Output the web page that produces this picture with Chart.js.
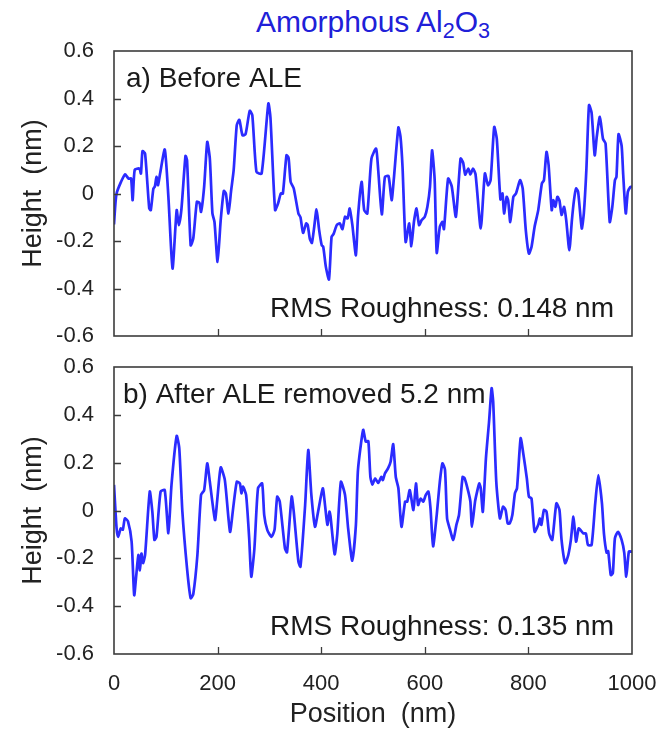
<!DOCTYPE html>
<html>
<head>
<meta charset="utf-8">
<script src="https://cdn.jsdelivr.net/npm/chart.js@4.4.0/dist/chart.umd.min.js"></script>
<style>
  html, body { margin: 0; padding: 0; background: #fff; }
  #wrap { position: relative; width: 671px; height: 732px; overflow: hidden; }
  #wrap canvas { position: absolute; left: 0; top: 0; }
  #title {
    position: absolute; left: 114px; width: 518px; top: 5px; text-align: center;
    font-family: "Liberation Sans", Arial, sans-serif; font-size: 30px; color: #2020d8;
  }
  #title sub { font-size: 0.72em; vertical-align: -0.3em; line-height: 0; }
</style>
</head>
<body>
<div id="wrap">
  <div id="title">Amorphous Al<sub>2</sub>O<sub>3</sub></div>
  <canvas id="chartA" width="671" height="732"></canvas>
  <canvas id="chartB" width="671" height="732"></canvas>
</div>
<script>
// panel a) before ALE
const posA = [0, 5, 21, 28, 33, 36, 40, 49, 52, 55, 60, 68, 71, 76, 79, 82, 85, 89, 98, 105,
  113, 121, 125, 130, 138, 141, 148, 153, 160, 165, 168, 174, 180, 185, 190, 194, 200, 206, 212, 216,
  221, 226, 231, 237, 242, 248, 254, 262, 267, 275, 285, 298, 302, 311, 317, 322, 326, 333, 337, 341,
  347, 356, 360, 365, 371, 374, 378, 382, 386, 391, 396, 401, 404, 409, 415, 420, 424, 430, 436, 441,
  446, 451, 455, 460, 467, 471, 478, 483, 489, 497, 506, 510, 517, 523, 530, 536, 540, 549, 553, 557,
  563, 570, 574, 579, 584, 589, 594, 600, 605, 610, 614, 619, 623, 629, 634, 637, 645, 652, 660, 669,
  674, 678, 684, 688, 693, 698, 708, 716, 722, 727, 734, 739, 746, 750, 753, 758, 761, 765, 771, 776,
  784, 789, 795, 801, 806, 812, 819, 826, 830, 835, 839, 845, 848, 852, 856, 860, 864, 869, 873, 879,
  884, 888, 892, 896, 903, 907, 912, 917, 922, 928, 932, 938, 944, 949, 957, 962, 967, 970, 974, 980,
  983, 988, 992, 997, 1000];
const heightA = [-0.13, 0.0, 0.08, 0.063, 0.063, -0.028, 0.10, 0.105, 0.084, 0.178, 0.168, -0.063, -0.07, 0.02, 0.03, 0.07, 0.035, 0.084, 0.185, -0.014,
  -0.316, -0.07, -0.133, -0.07, 0.158, 0.14, -0.218, -0.19, -0.035, -0.04, -0.077, 0.028, 0.217, 0.147, -0.084, -0.12, -0.288, -0.112, 0.011, 0.0,
  -0.084, 0.01, 0.098, 0.288, 0.31, 0.245, 0.25, 0.348, 0.33, 0.091, 0.084, 0.379, 0.32, -0.07, -0.04, 0.0, 0.0, 0.161, 0.15, 0.049,
  0.021, -0.084, -0.1, -0.166, -0.126, -0.133, -0.19, -0.208, -0.15, -0.067, -0.153, -0.218, -0.225, -0.309, -0.362, -0.183, -0.17, -0.133, -0.126, -0.15,
  -0.098, -0.105, -0.063, -0.13, -0.26, -0.098, 0.049, -0.07, -0.084, 0.147, 0.189, 0.10, -0.088, 0.07, 0.073, -0.028, 0.056, 0.278, 0.24, 0.112,
  -0.204, -0.126, -0.222, -0.12, -0.063, -0.133, -0.112, -0.098, -0.056, 0.028, 0.182, 0.06, -0.25, -0.14, -0.12, -0.15, 0.063, 0.03, -0.098, 0.147,
  0.13, 0.08, 0.105, 0.08, 0.105, 0.08, -0.147, 0.084, 0.035, 0.056, 0.28, 0.23, -0.025, 0.0, -0.084, -0.014, -0.03, -0.12, -0.014, 0.0,
  0.056, 0.021, -0.155, -0.253, -0.225, -0.14, -0.07, 0.042, 0.056, 0.175, 0.12, -0.07, -0.028, -0.056, -0.014, -0.03, -0.09, -0.056, -0.112, -0.239,
  -0.112, -0.028, 0.021, 0.007, -0.147, -0.084, 0.105, 0.372, 0.34, 0.161, 0.24, 0.323, 0.23, 0.21, -0.12, -0.056, 0.056, 0.07, 0.25, 0.2,
  0.08, -0.084, 0.007, 0.028, 0.03];

// panel b) after ALE removed 5.2 nm
const posB = [0, 5, 8, 13, 17, 21, 27, 34, 39, 43, 47, 50, 53, 56, 60, 69, 74, 78, 82, 90,
  98, 105, 111, 121, 126, 132, 141, 148, 153, 161, 168, 174, 180, 185, 195, 199, 206, 214, 224, 230,
  237, 243, 246, 249, 255, 261, 265, 271, 278, 286, 290, 296, 304, 310, 315, 320, 330, 334, 343, 347,
  356, 360, 369, 375, 381, 388, 394, 403, 407, 412, 416, 418, 426, 431, 438, 446, 452, 460, 467, 471,
  481, 486, 491, 495, 499, 504, 510, 516, 519, 523, 529, 534, 539, 544, 549, 555, 562, 566, 571, 578,
  583, 587, 592, 597, 602, 607, 611, 616, 623, 629, 634, 639, 643, 648, 655, 661, 666, 673, 677, 684,
  688, 691, 697, 701, 705, 708, 712, 718, 724, 729, 732, 738, 745, 751, 756, 760, 764, 769, 774, 778,
  785, 790, 797, 801, 806, 812, 819, 822, 825, 830, 835, 840, 846, 854, 860, 864, 871, 877, 882, 887,
  892, 897, 900, 906, 911, 915, 922, 929, 935, 942, 946, 951, 954, 959, 963, 967, 973, 980, 985, 989,
  994, 1000];
const heightB = [0.107, -0.075, -0.11, -0.075, -0.08, -0.033, -0.045, -0.13, -0.354, -0.27, -0.186, -0.25, -0.18, -0.22, -0.186, 0.079, -0.005, -0.123, -0.11, 0.079,
  0.085, -0.095, 0.107, 0.312, 0.26, -0.005, -0.242, -0.367, -0.35, -0.186, 0.065, 0.085, 0.197, 0.12, -0.04, 0.037, 0.18, 0.127, -0.089, 0.009,
  0.12, 0.113, 0.072, 0.1, 0.065, -0.117, -0.277, -0.16, 0.093, 0.113, -0.019, -0.082, -0.11, -0.08, 0.058, 0.037, -0.158, -0.175, 0.058, -0.005,
  -0.214, -0.235, 0.023, 0.253, 0.065, -0.068, -0.005, 0.093, 0.03, -0.06, -0.005, -0.025, -0.183, -0.1, 0.12, 0.065, -0.075, -0.21, -0.06, 0.17,
  0.337, 0.288, 0.29, 0.14, 0.108, 0.134, 0.115, 0.14, 0.127, 0.155, 0.176, 0.204, 0.277, 0.14, 0.093, -0.068, 0.037, 0.037, 0.085, 0.002,
  0.113, 0.023, 0.05, 0.037, 0.065, 0.079, 0.009, -0.15, -0.019, 0.12, 0.197, 0.17, -0.033, -0.075, -0.123, -0.06, -0.019, 0.14, 0.134, 0.079,
  0.037, -0.068, 0.037, 0.079, 0.113, 0.093, -0.005, 0.218, 0.37, 0.511, 0.455, 0.12, -0.033, 0.016, 0.002, -0.054, -0.054, -0.019, 0.072, 0.093,
  0.302, 0.24, 0.134, 0.058, 0.05, -0.089, -0.06, -0.033, -0.06, 0.002, -0.005, -0.096, -0.123, 0.03, 0.002, -0.123, -0.22, -0.186, -0.123, -0.026,
  -0.13, -0.075, -0.08, -0.096, -0.096, -0.144, -0.144, 0.03, 0.148, 0.03, -0.1, -0.176, -0.17, -0.27, -0.262, -0.116, -0.089, -0.123, -0.176, -0.277,
  -0.172, -0.172];

const xTicks = [0, 200, 400, 600, 800, 1000];
const yTicks = [-0.6, -0.4, -0.2, 0, 0.2, 0.4, 0.6];

const FONT = '"Liberation Sans", Arial, sans-serif';
const LINE_BLUE = '#2b2bff';
const FRAME = '#3c3c3c';

// frame, inward tick marks and in-panel labels
const panelDecor = {
  id: 'panelDecor',
  afterDraw(chart, args, opts) {
    const { ctx, chartArea: a, scales } = chart;
    ctx.save();
    ctx.strokeStyle = FRAME;
    ctx.lineWidth = 1.6;
    ctx.strokeRect(a.left, a.top, a.right - a.left, a.bottom - a.top);
    ctx.lineWidth = 1.3;
    ctx.beginPath();
    yTicks.slice(1, -1).forEach(v => {
      const y = Math.round(scales.y.getPixelForValue(v)) + 0.5;
      ctx.moveTo(a.left, y); ctx.lineTo(a.left + 7, y);
    });
    xTicks.slice(1, -1).forEach(v => {
      const x = Math.round(scales.x.getPixelForValue(v)) + 0.5;
      ctx.moveTo(x, a.bottom); ctx.lineTo(x, a.bottom - 7);
    });
    ctx.stroke();

    ctx.fillStyle = '#1a1a1a';
    ctx.font = '28px ' + FONT;
    ctx.textBaseline = 'alphabetic';
    ctx.textAlign = 'left';
    ctx.fillText(opts.label, a.left + opts.labelDx, a.top + 36);
    ctx.textAlign = 'right';
    ctx.fillText(opts.rms, a.right - 18, a.bottom - 19);
    ctx.restore();
  }
};

function makePanel(id, xs, ys, pad, showX, label, labelDx, rms) {
  return new Chart(document.getElementById(id), {
    type: 'line',
    data: {
      datasets: [{
        data: xs.map((x, i) => ({ x: x, y: ys[i] })),
        borderColor: LINE_BLUE,
        borderWidth: 2.7,
        pointRadius: 0,
        tension: 0.2,
        fill: false
      }]
    },
    options: {
      responsive: false,
      devicePixelRatio: 1,
      animation: false,
      layout: { padding: pad },
      plugins: {
        legend: { display: false },
        tooltip: { enabled: false },
        panelDecor: { label: label, labelDx: labelDx, rms: rms }
      },
      scales: {
        x: {
          type: 'linear',
          min: 0,
          max: 1000,
          display: showX,
          afterBuildTicks: axis => { axis.ticks = xTicks.map(v => ({ value: v })); },
          afterFit: axis => {
            if (showX) axis.height = 78;
            axis.paddingLeft = 0;
            axis.paddingRight = 0;
          },
          grid: { display: false, drawTicks: false },
          border: { display: false },
          ticks: {
            color: '#222',
            font: { family: FONT, size: 22 },
            padding: 17,
            maxRotation: 0,
            callback: v => String(v)
          },
          title: {
            display: true,
            text: 'Position  (nm)',
            color: '#222',
            font: { family: FONT, size: 27 },
            padding: { top: 0, bottom: 1 }
          }
        },
        y: {
          min: -0.6,
          max: 0.6,
          afterBuildTicks: axis => { axis.ticks = yTicks.map(v => ({ value: v })); },
          afterFit: axis => { axis.width = 114; },
          grid: { display: false, drawTicks: false },
          border: { display: false },
          ticks: {
            color: '#222',
            font: { family: FONT, size: 22 },
            padding: 20,
            callback: v => (Math.abs(v) < 1e-9 ? '0' : v.toFixed(1))
          },
          title: {
            display: true,
            text: 'Height  (nm)',
            color: '#222',
            font: { family: FONT, size: 27 },
            padding: { top: 17, bottom: 0 }
          }
        }
      }
    },
    plugins: [panelDecor]
  });
}

makePanel('chartA', posA, heightA, { top: 51, bottom: 396, left: 0, right: 39 }, false,
  'a) Before ALE', 12, 'RMS Roughness: 0.148 nm');
makePanel('chartB', posB, heightB, { top: 367, bottom: 0, left: 0, right: 39 }, true,
  'b) After ALE removed 5.2 nm', 9, 'RMS Roughness: 0.135 nm');
</script>
</body>
</html>
